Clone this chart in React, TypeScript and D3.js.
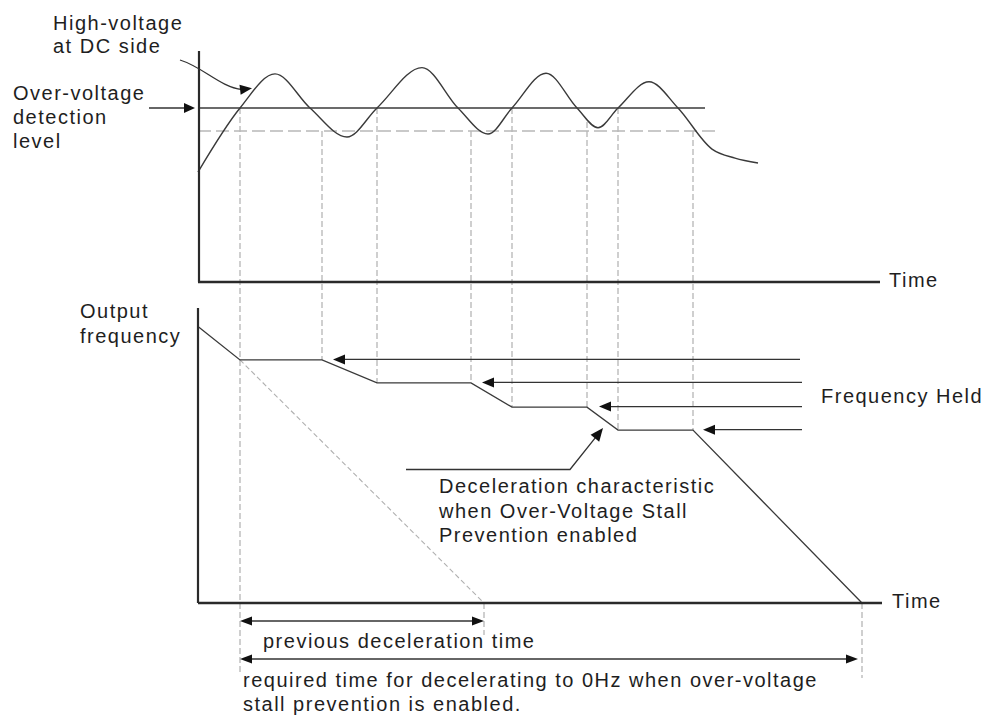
import React, { useEffect } from 'react';
import * as d3 from 'd3';

// ---- data ----
const timeDomain = [0, 68];
const voltageDomain = [0, 100];
const freqDomain = [0, 100];

const detectionLevel = 75;
const lowerLevel = 65.1;
const detectionLineEndT = 50.7;
const lowerLineEndT = 51.7;

const voltageT = [0, 4.2, 7.7, 11.2, 14.9, 17.9, 22.4, 26.0, 29.0, 31.4, 34.8, 37.9, 40.0, 42.0, 45.1, 48.0, 51.4, 53.7, 56.0];
const voltageV = [47.4, 75, 89.7, 75, 62.5, 75, 92.4, 75, 63.8, 75, 90.0, 75, 66.5, 75, 86.3, 75, 57.3, 53.4, 51.3];

const freqT = [0, 4.2, 12.4, 17.9, 27.3, 31.4, 38.9, 42.0, 49.5, 66.4];
const freqF = [93.7, 82.4, 82.4, 74.6, 74.6, 66.4, 66.4, 58.6, 58.6, 0];

const prevDecelT = [4.2, 28.6];
const prevDecelF = [82.4, 0];

const guideT = [4.2, 12.4, 17.9, 27.3, 31.4, 38.9, 42.0, 49.5];
const guideTopV = [75, 65.1, 75, 65.1, 75, 69, 75, 65.1];
const guideBottomF = [null, 82.4, 74.6, 74.6, 66.4, 66.4, 58.6, 58.6];

const heldTipT = [13.5, 28.4, 40.1, 50.5];
const heldTailT = [60.2, 60.4, 60.4, 60.4];
const heldF = [82.4, 74.6, 66.4, 58.6];

const axisEndT = 68.2;

const labelHigh = ['High-voltage', 'at DC side'];
const labelOver = ['Over-voltage', 'detection', 'level'];
const labelOutput = ['Output', 'frequency'];
const labelDecel = ['Deceleration characteristic', 'when Over-Voltage Stall', 'Prevention enabled'];
const labelHeld = 'Frequency Held';
const labelTime = 'Time';
const labelPrev = 'previous deceleration time';
const labelReq = ['required time for decelerating to 0Hz when over-voltage', 'stall prevention is enabled.'];

// ---- helpers ----
function head(tx: number, ty: number, angle: number, len = 11, half = 4.5) {
  const c = Math.cos(angle), s = Math.sin(angle);
  const bx = tx - len * c, by = ty - len * s;
  const p1 = [bx - half * s, by + half * c];
  const p2 = [bx + half * s, by - half * c];
  return `M${tx},${ty}L${p1[0]},${p1[1]}L${p2[0]},${p2[1]}Z`;
}

export default function App() {
  useEffect(() => {
    document.body.style.margin = '0';
  }, []);

  const W = 988, H = 715;
  const x = d3.scaleLinear().domain(timeDomain).range([198, 878]);
  const yV = d3.scaleLinear().domain(voltageDomain).range([282, 50]);
  const yF = d3.scaleLinear().domain(freqDomain).range([603, 308]);

  const vLine = d3.line<number>().x((_, i) => x(voltageT[i])).y((d) => yV(d)).curve(d3.curveMonotoneX);
  const fLine = d3.line<number>().x((_, i) => x(freqT[i])).y((d) => yF(d));

  const font = { fontFamily: '"Liberation Sans", Arial, Helvetica, sans-serif', fontSize: 20, letterSpacing: 1.5, fill: '#1e1e1e' } as const;

  const reqY = 659;
  const prevY = 621;
  const ink = '#2a2a2a';

  // deceleration leader
  const leadY = 469.5;
  const leadX0 = 406, leadX1 = 570;
  const tipX = x(40.5), tipY = yF(66.4) + 21;
  const leadAng = Math.atan2(tipY - leadY, tipX - leadX1);

  return (
    <svg width={W} height={H} style={{ display: 'block', position: 'absolute', left: 0, top: 0, background: '#fff' }}>
      <rect width={W} height={H} fill="#fff" />

      {/* guides */}
      {guideT.map((t, i) => (
        <line key={'g' + i} x1={x(t)} x2={x(t)} y1={yV(guideTopV[i])}
          y2={guideBottomF[i] == null ? reqY + 16 : yF(guideBottomF[i] as number)}
          stroke="#b0b0b0" strokeWidth={1.2} strokeDasharray="6,3" />
      ))}
      <line x1={x(prevDecelT[1])} x2={x(prevDecelT[1])} y1={yF(0)} y2={prevY + 14} stroke="#b0b0b0" strokeWidth={1.2} strokeDasharray="6,3" />
      <line x1={x(freqT[freqT.length - 1])} x2={x(freqT[freqT.length - 1])} y1={yF(0)} y2={reqY + 19} stroke="#b0b0b0" strokeWidth={1.2} strokeDasharray="6,3" />

      {/* top chart levels */}
      <line x1={x(0)} x2={x(lowerLineEndT)} y1={yV(lowerLevel)} y2={yV(lowerLevel)} stroke="#b8b8b8" strokeWidth={1.6} strokeDasharray="13,5" />
      <line x1={x(0)} x2={x(detectionLineEndT)} y1={yV(detectionLevel)} y2={yV(detectionLevel)} stroke="#3a3a3a" strokeWidth={1.3} />

      {/* voltage curve */}
      <path d={vLine(voltageV) || ''} fill="none" stroke="#3a3a3a" strokeWidth={1.4} />

      {/* top axes */}
      <line x1={199} x2={199} y1={51} y2={282} stroke={ink} strokeWidth={2.2} />
      <line x1={198} x2={x(axisEndT)} y1={282} y2={282} stroke={ink} strokeWidth={2.4} />
      <text x={x(axisEndT) + 9} y={287} {...font}>{labelTime}</text>

      {/* previous deceleration dashed */}
      <line x1={x(prevDecelT[0])} y1={yF(prevDecelF[0])} x2={x(prevDecelT[1])} y2={yF(prevDecelF[1])} stroke="#b0b0b0" strokeWidth={1.1} strokeDasharray="5,3" />

      {/* frequency curve */}
      <path d={fLine(freqF) || ''} fill="none" stroke="#3a3a3a" strokeWidth={1.3} />

      {/* bottom axes */}
      <line x1={198} x2={198} y1={308} y2={yF(0)} stroke={ink} strokeWidth={2.2} />
      <line x1={198} x2={x(axisEndT) + 2} y1={yF(0)} y2={yF(0)} stroke={ink} strokeWidth={2.4} />
      <text x={x(axisEndT) + 12} y={608} {...font}>{labelTime}</text>

      {/* frequency held arrows */}
      {heldTipT.map((t, i) => (
        <g key={'h' + i}>
          <line x1={x(t) + 8} x2={x(heldTailT[i])} y1={yF(heldF[i]) - 0.5} y2={yF(heldF[i]) - 0.5} stroke="#333" strokeWidth={1.3} />
          <path d={head(x(t), yF(heldF[i]) - 0.5, Math.PI, 12, 5)} fill="#111" />
        </g>
      ))}
      <text x={821} y={403} {...font}>{labelHeld}</text>

      {/* deceleration leader */}
      <polyline points={`${leadX0},${leadY} ${leadX1},${leadY} ${tipX - 8 * Math.cos(leadAng)},${tipY - 8 * Math.sin(leadAng)}`} fill="none" stroke="#333" strokeWidth={1.3} />
      <path d={head(tipX, tipY, leadAng, 13, 5.5)} fill="#111" />
      {labelDecel.map((s, i) => (
        <text key={'d' + i} x={439} y={493 + i * 24.5} {...font}>{s}</text>
      ))}

      {/* High-voltage curved arrow */}
      <path d="M180,60 C203,67 220,87 242,89.5" fill="none" stroke="#333" strokeWidth={1.3} />
      <path d={head(252, 88.3, Math.atan2(-1.2, 10), 12, 5)} fill="#111" />
      {labelHigh.map((s, i) => (
        <text key={'hv' + i} x={53} y={29.5 + i * 23.5} {...font}>{s}</text>
      ))}

      {/* Over-voltage arrow */}
      <line x1={149} x2={186} y1={yV(detectionLevel)} y2={yV(detectionLevel)} stroke="#333" strokeWidth={1.3} />
      <path d={head(195, yV(detectionLevel), 0, 11, 5)} fill="#111" />
      {labelOver.map((s, i) => (
        <text key={'ov' + i} x={13} y={100 + i * 24} {...font}>{s}</text>
      ))}

      {labelOutput.map((s, i) => (
        <text key={'of' + i} x={80} y={318 + i * 25} {...font}>{s}</text>
      ))}

      {/* previous deceleration time arrow */}
      <line x1={x(prevDecelT[0]) + 8} x2={x(prevDecelT[1]) - 8} y1={prevY} y2={prevY} stroke="#333" strokeWidth={1.4} />
      <path d={head(x(prevDecelT[0]), prevY, Math.PI, 12, 4.5)} fill="#111" />
      <path d={head(x(prevDecelT[1]), prevY, 0, 12, 4.5)} fill="#111" />
      <text x={263} y={648} {...font}>{labelPrev}</text>

      {/* required time arrow */}
      <line x1={x(prevDecelT[0]) + 8} x2={x(freqT[freqT.length - 1]) - 12} y1={reqY} y2={reqY} stroke="#333" strokeWidth={1.4} />
      <path d={head(x(prevDecelT[0]), reqY, Math.PI, 12, 4.5)} fill="#111" />
      <path d={head(x(freqT[freqT.length - 1]) - 4, reqY, 0, 12, 4.5)} fill="#111" />
      {labelReq.map((s, i) => (
        <text key={'rq' + i} x={243} y={687 + i * 24} {...font}>{s}</text>
      ))}
    </svg>
  );
}
